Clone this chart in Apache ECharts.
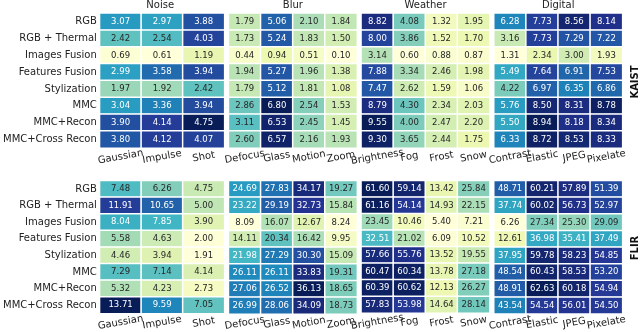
<!DOCTYPE html>
<html><head><meta charset="utf-8">
<script src="https://cdn.jsdelivr.net/npm/echarts@6/dist/echarts.min.js"></script>
<style>html,body{margin:0;padding:0;background:#fff}#c{width:640px;height:332px}</style>
</head><body><div id="c"></div>
<script>
const rows = ['RGB','RGB + Thermal','Images Fusion','Features Fusion','Stylization','MMC','MMC+Recon','MMC+Cross Recon'];
const groupNames = ['Noise','Blur','Weather','Digital'];
const noiseCols = ['Gaussian','Impulse','Shot'];
const blurCols = ['Defocus','Glass','Motion','Zoom'];
const weatherCols = ['Brightness','Fog','Frost','Snow'];
const digitalCols = ['Contrast','Elastic','JPEG','Pixelate'];
const panelNames = ['KAIST','FLIR'];

const kaistNoise = [[3.07,2.97,3.88],[2.42,2.54,4.03],[0.69,0.61,1.19],[2.99,3.58,3.94],[1.97,1.92,2.42],[3.04,3.36,3.94],[3.90,4.14,4.75],[3.80,4.12,4.07]];
const kaistBlur = [[1.79,5.06,2.10,1.84],[1.73,5.24,1.83,1.50],[0.44,0.94,0.51,0.10],[1.94,5.27,1.96,1.38],[1.79,5.12,1.81,1.08],[2.86,6.80,2.54,1.53],[3.11,6.53,2.45,1.45],[2.60,6.57,2.16,1.93]];
const kaistWeather = [[8.82,4.08,1.32,1.95],[8.00,3.86,1.52,1.70],[3.14,0.60,0.88,0.87],[7.88,3.34,2.46,1.98],[7.47,2.62,1.59,1.06],[8.79,4.30,2.34,2.03],[9.55,4.00,2.47,2.20],[9.30,3.65,2.44,1.75]];
const kaistDigital = [[6.28,7.73,8.56,8.14],[3.16,7.73,7.29,7.22],[1.31,2.34,3.00,1.93],[5.49,7.64,6.91,7.53],[4.22,6.97,6.35,6.86],[5.76,8.50,8.31,8.78],[5.50,8.94,8.18,8.34],[6.33,8.72,8.53,8.33]];

const flirNoise = [[7.48,6.26,4.75],[11.91,10.65,5.00],[8.04,7.85,3.90],[5.58,4.63,2.00],[4.46,3.94,1.91],[7.29,7.14,4.14],[5.32,4.23,2.73],[13.71,9.59,7.05]];
const flirBlur = [[24.69,27.83,34.17,19.27],[23.22,29.19,32.73,15.84],[8.09,16.07,12.67,8.24],[14.11,20.34,16.42,9.95],[21.98,27.29,30.30,15.09],[26.11,26.11,33.83,19.31],[27.06,26.52,36.13,18.65],[26.99,28.06,34.09,18.73]];
const flirWeather = [[61.60,59.14,13.42,25.84],[61.16,54.14,14.93,22.15],[23.45,10.46,5.40,7.21],[32.51,21.02,6.09,10.52],[57.66,55.76,13.52,19.55],[60.47,60.34,13.78,27.18],[60.39,60.62,12.13,26.27],[57.83,53.98,14.64,28.14]];
const flirDigital = [[48.71,60.21,57.89,51.39],[37.74,60.02,56.73,52.97],[6.26,27.34,25.30,29.09],[12.61,36.98,35.41,37.49],[37.95,59.78,58.23,54.85],[48.54,60.43,58.53,53.20],[48.91,62.63,60.18,54.94],[43.54,54.54,56.01,54.50]];

const colsByGroup = [noiseCols, blurCols, weatherCols, digitalCols];
const panels = [[kaistNoise,kaistBlur,kaistWeather,kaistDigital],[flirNoise,flirBlur,flirWeather,flirDigital]];

const YlGnBu = ['#ffffd9','#edf8b1','#c7e9b4','#7fcdbb','#41b6c4','#1d91c0','#225ea8','#253494','#081d58'];
function hex(h){return [1,3,5].map(i=>parseInt(h.substr(i,2),16));}
function cmap(t){
  t=Math.max(0,Math.min(1,t));const p=t*(YlGnBu.length-1);const i=Math.min(Math.floor(p),YlGnBu.length-2);const f=p-i;
  const a=hex(YlGnBu[i]),b=hex(YlGnBu[i+1]);return a.map((v,k)=>v+(b[k]-v)*f);
}
function lum(rgb){const c=rgb.map(v=>{v/=255;return v<=0.03928?v/12.92:Math.pow((v+0.055)/1.055,2.4);});return 0.2126*c[0]+0.7152*c[1]+0.0722*c[2];}

const FONT='DejaVu Sans';
const lefts=[96,228.7,361.3,494];
const W=128.4;
const tops=[13.3,180.7];
const H=134.6;

const grid=[],xAxis=[],yAxis=[],series=[],visualMap=[],title=[];
let idx=0;
for(let p=0;p<2;p++){
  for(let g=0;g<4;g++){
    const vals=panels[p][g];
    const flat=vals.flat();
    const mn=Math.min(...flat),mx=Math.max(...flat);
    grid.push({left:lefts[g],top:tops[p],width:W,height:H});
    xAxis.push({type:'category',gridIndex:idx,data:colsByGroup[g],position:'bottom',
      axisLine:{show:false},axisTick:{show:false},splitLine:{show:false},
      axisLabel:{interval:0,rotate:10,align:'center',verticalAlign:'middle',margin:9,fontSize:10,fontFamily:FONT,color:'#222'}});
    yAxis.push({type:'category',gridIndex:idx,data:rows,inverse:true,
      axisLine:{show:false},axisTick:{show:false},splitLine:{show:false},
      axisLabel:{show:g===0,margin:3,fontSize:10,fontFamily:FONT,color:'#222'}});
    const data=[];
    vals.forEach((r,ri)=>r.forEach((v,ci)=>{
      const L=lum(cmap((v-mn)/(mx-mn)));
      data.push({value:[ci,ri,v],label:{color:L>0.408?'#262626':'#ffffff'}});
    }));
    series.push({type:'heatmap',xAxisIndex:idx,yAxisIndex:idx,data:data,
      itemStyle:{borderColor:'#ffffff',borderWidth:1.5},
      label:{show:true,fontSize:8.5,fontFamily:FONT,formatter:(pr)=>pr.value[2].toFixed(2)},
      emphasis:{disabled:true}});
    visualMap.push({type:'continuous',show:false,seriesIndex:idx,dimension:2,min:mn,max:mx,inRange:{color:YlGnBu}});
    if(p===0) title.push({text:groupNames[g],left:lefts[g]+W/2,top:0,textAlign:'center',padding:0,
      textStyle:{fontSize:10,fontWeight:'normal',fontFamily:FONT,color:'#222'}});
    idx++;
  }
}

const chart=echarts.init(document.getElementById('c'),null,{renderer:'canvas'});
chart.setOption({
  animation:false,backgroundColor:'#ffffff',
  title,grid,xAxis,yAxis,series,visualMap,
  graphic:[
    {type:'text',x:635.5,y:82,rotation:Math.PI/2,style:{text:panelNames[0],font:'bold 10px "DejaVu Sans"',fill:'#111',textAlign:'center',textVerticalAlign:'middle'}},
    {type:'text',x:635.5,y:248,rotation:Math.PI/2,style:{text:panelNames[1],font:'bold 10px "DejaVu Sans"',fill:'#111',textAlign:'center',textVerticalAlign:'middle'}}
  ]
});
</script></body></html>
